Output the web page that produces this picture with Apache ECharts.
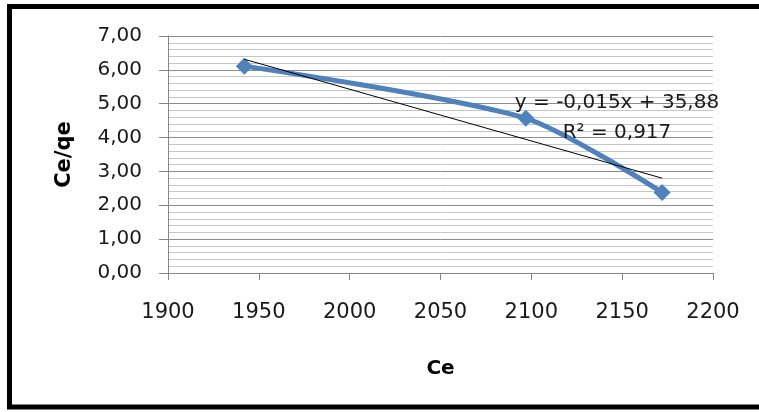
<!DOCTYPE html>
<html><head><meta charset="utf-8">
<script src="https://cdn.jsdelivr.net/npm/echarts@6/dist/echarts.min.js"></script>
<style>html,body{margin:0;padding:0;background:#fff}#c{width:759px;height:412px}</style>
</head><body><div id="c"></div>
<script>
// ---- data ----
const ceValues = [1942, 2097, 2172];          // x: Ce
const ceQeValues = [6.11, 4.57, 2.38];        // y: Ce/qe
const xAxisRange = [1900, 2200, 50];          // min, max, interval
const yAxisRange = [0, 7, 1];
const xTitle = 'Ce';
const yTitle = 'Ce/qe';
const trendEquationText = 'y = -0,015x + 35,88';
const trendR2Text = 'R\u00B2 = 0,917';

// least-squares linear trendline through the data
function linearFit(xs, ys) {
  const n = xs.length;
  const mx = xs.reduce((a, b) => a + b, 0) / n;
  const my = ys.reduce((a, b) => a + b, 0) / n;
  let sxy = 0, sxx = 0;
  for (let i = 0; i < n; i++) { sxy += (xs[i] - mx) * (ys[i] - my); sxx += (xs[i] - mx) ** 2; }
  const slope = sxy / sxx;
  return { slope, intercept: my - slope * mx };
}
const fit = linearFit(ceValues, ceQeValues);
const xMin = Math.min(...ceValues), xMax = Math.max(...ceValues);
const trendData = [[xMin, fit.intercept + fit.slope * xMin], [xMax, fit.intercept + fit.slope * xMax]];
const seriesData = ceValues.map((x, i) => [x, ceQeValues[i]]);

const FONT = 'DejaVu Sans';
const fmtComma = v => v.toFixed(2).replace('.', ',');

const chart = echarts.init(document.getElementById('c'), null, { renderer: 'canvas' });
chart.setOption({
  animation: false,
  backgroundColor: '#ffffff',
  grid: { left: 168, top: 36, right: 46, bottom: 139, containLabel: false },
  xAxis: {
    type: 'value', min: xAxisRange[0], max: xAxisRange[1], interval: xAxisRange[2],
    name: xTitle, nameLocation: 'middle', nameGap: 86,
    nameTextStyle: { fontFamily: FONT, fontSize: 20, fontWeight: 'bold', color: '#000' },
    axisLine: { show: true, lineStyle: { color: '#868686', width: 1 } },
    axisTick: { show: true, inside: false, length: 7, lineStyle: { color: '#868686' } },
    axisLabel: { fontFamily: FONT, fontSize: 21, color: '#1a1a1a', margin: 29, formatter: v => String(v) },
    splitLine: { show: false }
  },
  yAxis: {
    type: 'value', min: yAxisRange[0], max: yAxisRange[1], interval: yAxisRange[2],
    name: yTitle, nameLocation: 'middle', nameGap: 93, nameRotate: 90,
    nameTextStyle: { fontFamily: FONT, fontSize: 21, fontWeight: 'bold', color: '#000' },
    axisLine: { show: true, lineStyle: { color: '#868686', width: 1 } },
    axisTick: { show: true, inside: false, length: 9, lineStyle: { color: '#868686' } },
    axisLabel: { fontFamily: FONT, fontSize: 20, color: '#1a1a1a', margin: 26, formatter: fmtComma },
    splitLine: { show: true, lineStyle: { color: '#8c8c8c', width: 1 } },
    minorTick: { show: false, splitNumber: 5 },
    minorSplitLine: { show: true, lineStyle: { color: '#c6c6c6', width: 1 } }
  },
  series: [
    {
      type: 'line', data: seriesData, smooth: 0.25,
      symbol: 'diamond', symbolSize: 17,
      lineStyle: { color: '#4F81BD', width: 5 },
      itemStyle: { color: '#4F81BD' },
      z: 3
    },
    {
      type: 'line', data: trendData, symbol: 'none',
      lineStyle: { color: '#000000', width: 1 },
      z: 4, silent: true
    }
  ],
  graphic: [
    {
      type: 'rect', shape: { x: 9.5, y: 6.5, width: 800, height: 400.5 },
      style: { fill: 'none', stroke: '#000', lineWidth: 5 }, z: 100, silent: true
    },
    {
      type: 'text', x: 617, y: 103, z: 50,
      style: { text: trendEquationText, font: '20px "DejaVu Sans"', fill: '#1a1a1a', align: 'center', verticalAlign: 'middle' }
    },
    {
      type: 'text', x: 617, y: 133, z: 50,
      style: { text: trendR2Text, font: '20px "DejaVu Sans"', fill: '#1a1a1a', align: 'center', verticalAlign: 'middle' }
    }
  ]
});
</script>
</body></html>
